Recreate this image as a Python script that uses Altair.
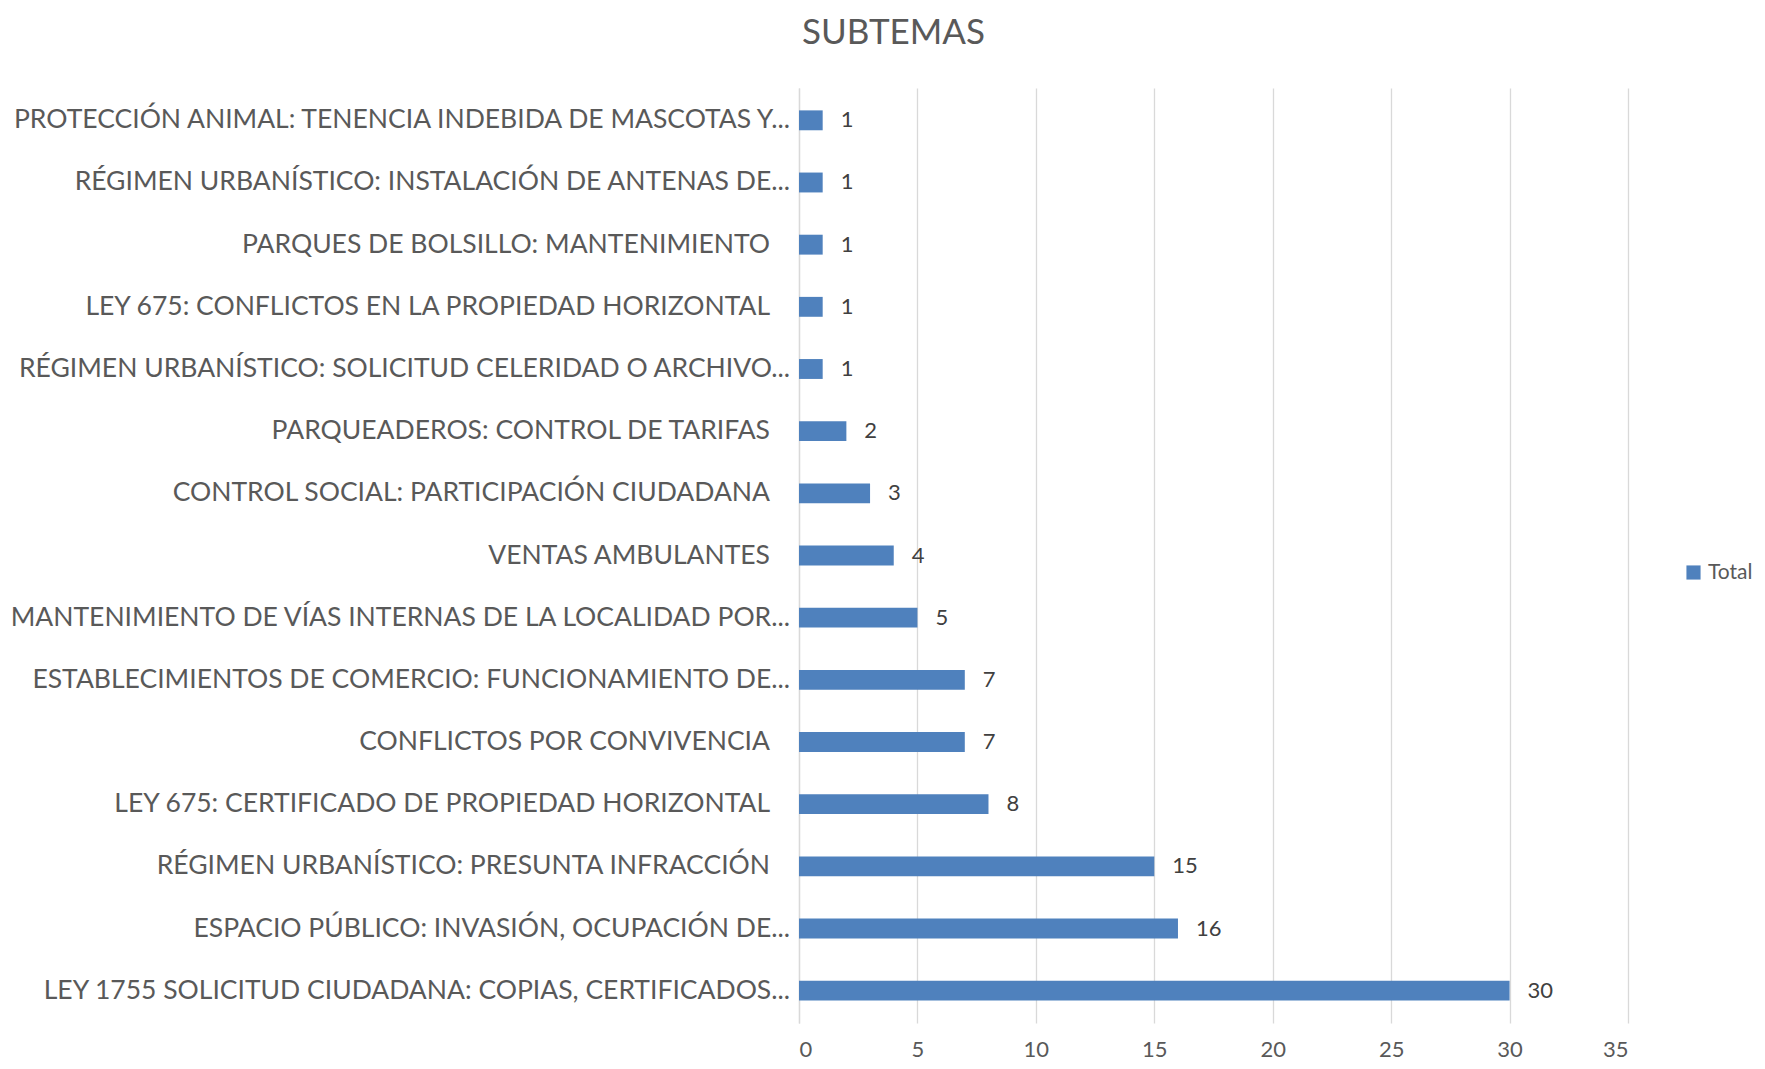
import altair as alt
import pandas as pd

categories = [
    "PROTECCIÓN ANIMAL: TENENCIA INDEBIDA DE MASCOTAS Y...",
    "RÉGIMEN URBANÍSTICO: INSTALACIÓN DE ANTENAS DE...",
    "PARQUES DE BOLSILLO: MANTENIMIENTO",
    "LEY 675: CONFLICTOS EN LA PROPIEDAD HORIZONTAL",
    "RÉGIMEN URBANÍSTICO: SOLICITUD CELERIDAD O ARCHIVO...",
    "PARQUEADEROS: CONTROL DE TARIFAS",
    "CONTROL SOCIAL: PARTICIPACIÓN CIUDADANA",
    "VENTAS AMBULANTES",
    "MANTENIMIENTO DE VÍAS INTERNAS DE LA LOCALIDAD POR...",
    "ESTABLECIMIENTOS DE COMERCIO: FUNCIONAMIENTO DE...",
    "CONFLICTOS POR CONVIVENCIA",
    "LEY 675: CERTIFICADO DE PROPIEDAD HORIZONTAL",
    "RÉGIMEN URBANÍSTICO: PRESUNTA INFRACCIÓN",
    "ESPACIO PÚBLICO: INVASIÓN, OCUPACIÓN DE...",
    "LEY 1755 SOLICITUD CIUDADANA: COPIAS, CERTIFICADOS...",
]
values = [1, 1, 1, 1, 1, 2, 3, 4, 5, 7, 7, 8, 15, 16, 30]
x_ticks = [0, 5, 10, 15, 20, 25, 30, 35]

df = pd.DataFrame({
    "subtema": categories,
    "valor": values,
    "serie": ["Total"] * len(values),
    "truncado": [c.endswith("...") for c in categories],
})

FONT = "Lato"
GRAY = "#595959"

yenc = alt.Y(
    "subtema:N",
    sort=categories,
    title=None,
    scale=alt.Scale(paddingInner=0.68, paddingOuter=0.36),
    axis=alt.Axis(
        labels=False,
        ticks=False,
        domain=True,
        domainColor="#D9D9D9",
        domainWidth=1.3,
        grid=False,
    ),
)

xenc = alt.X(
    "valor:Q",
    title=None,
    scale=alt.Scale(domain=[0, 35], nice=False),
    axis=alt.Axis(
        values=x_ticks,
        labelFont=FONT,
        labelFontSize=22,
        labelColor=GRAY,
        labelPadding=16,
        ticks=False,
        domain=False,
        grid=True,
        gridColor="#D9D9D9",
        gridWidth=1.3,
    ),
)

base = alt.Chart(df).encode(y=yenc)

bars = base.mark_bar().encode(
    x=xenc,
    color=alt.Color(
        "serie:N",
        scale=alt.Scale(range=["#4F81BD"]),
        legend=alt.Legend(
            title=None,
            orient="none",
            legendX=884,
            legendY=474,
            symbolType="square",
            symbolSize=200,
            labelFont=FONT,
            labelFontSize=21,
            labelOffset=4,
            labelColor=GRAY,
        ),
    ),
)

values_text = base.mark_text(align="left", dx=18, font=FONT, fontSize=22, color="#404040").encode(
    x="valor:Q",
    text="valor:Q",
)

labels_trunc = base.mark_text(align="right", font=FONT, fontSize=26.5, color=GRAY).encode(
    x=alt.value(-9),
    text="subtema:N",
).transform_filter("datum.truncado")

labels_full = base.mark_text(align="right", font=FONT, fontSize=26.5, color=GRAY).encode(
    x=alt.value(-29),
    text="subtema:N",
).transform_filter("!datum.truncado")

chart = (
    (bars + values_text + labels_trunc + labels_full)
    .properties(
        width=829,
        height=935,
        padding={"left": 791, "top": 80, "right": 128, "bottom": 37},
        autosize=alt.AutoSizeParams(type="none"),
        title=alt.TitleParams(
            "SUBTEMAS",
            font=FONT,
            fontSize=35,
            fontWeight="normal",
            color=GRAY,
            anchor="middle",
            dx=-320,
            offset=37,
        ),
    )
    .configure_view(stroke=None)
)

chart.save("out.html", embed_options={"renderer": "svg", "actions": False})
